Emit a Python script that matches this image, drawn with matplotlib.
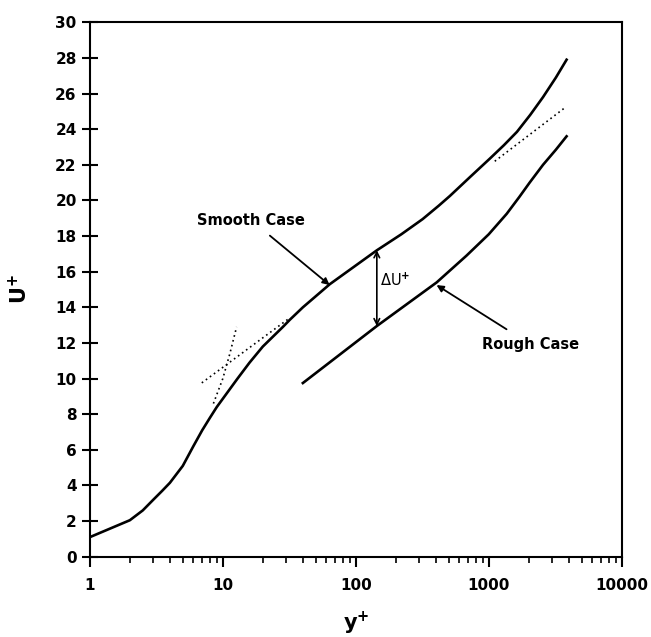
import matplotlib.pyplot as plt
from matplotlib.ticker import FixedLocator, LogLocator, NullFormatter

plt.rcParams['font.family'] = ['DejaVu Sans']
plt.rcParams['font.weight'] = 'bold'
plt.rcParams['mathtext.default'] = 'bf'

# smooth wall profile
smooth_y = [1, 2, 2.5, 3, 3.5, 4, 5, 6, 7, 8, 9, 12.9, 15.9, 20, 28.3, 31.9, 40, 63.8,
            144, 220, 318, 420, 510, 720, 1020, 1300, 1630, 2050, 2560, 3200, 3850]
smooth_u = [1.1, 2.05, 2.6, 3.2, 3.7, 4.15, 5.1, 6.2, 7.1, 7.8, 8.4, 10.0, 10.9, 11.8, 12.9, 13.3, 14.0, 15.3,
            17.2, 18.1, 18.95, 19.7, 20.25, 21.3, 22.35, 23.1, 23.85, 24.8, 25.8, 26.9, 27.9]

# rough wall profile
rough_y = [40, 144, 406, 680, 1000, 1365, 1700, 2030, 2560, 3200, 3850]
rough_u = [9.75, 12.95, 15.4, 16.9, 18.1, 19.25, 20.2, 21.0, 22.0, 22.85, 23.6]

# reference dotted lines
visc_y = [8.5, 10.0, 11.3, 12.7]
visc_u = [8.6, 10.0, 11.4, 12.9]
log_lo_y = [6.95, 31.8]
log_lo_u = [9.76, 13.4]
log_hi_y = [1110, 3730]
log_hi_u = [22.2, 25.2]

fig = plt.figure(figsize=(6.51, 6.37), dpi=100)
ax = fig.add_axes([0.138, 0.126, 0.817, 0.839])

ax.plot(smooth_y, smooth_u, color='black', lw=1.9)
ax.plot(rough_y, rough_u, color='black', lw=1.9)
ax.plot(visc_y, visc_u, color='black', lw=1.2, ls=(0, (1, 2)))
ax.plot(log_lo_y, log_lo_u, color='black', lw=1.2, ls=(0, (1, 2)))
ax.plot(log_hi_y, log_hi_u, color='black', lw=1.2, ls=(0, (1, 2)))

# delta U arrow
ax.annotate('', xy=(144, 17.2), xytext=(144, 12.95),
            arrowprops=dict(arrowstyle='<->', color='black', lw=1.2,
                            shrinkA=0, shrinkB=0))
ax.text(152, 15.5, 'ΔU$^{+}$', fontsize=10.5, fontweight='normal',
        va='center', ha='left')

ax.annotate('Smooth Case', xy=(63.6, 15.25), xytext=(16.3, 18.9),
            fontsize=10.5, ha='center', va='center',
            arrowprops=dict(arrowstyle='-|>', color='black', lw=1.3,
                            shrinkA=6, shrinkB=0, mutation_scale=10))
ax.annotate('Rough Case', xy=(405, 15.25), xytext=(2080, 11.9),
            fontsize=10.5, ha='center', va='center',
            arrowprops=dict(arrowstyle='-|>', color='black', lw=1.3,
                            shrinkA=7, shrinkB=0, mutation_scale=10))

ax.set_xscale('log')
ax.set_xlim(1, 10000)
ax.set_ylim(0, 30)
ax.xaxis.set_major_locator(FixedLocator([1, 10, 100, 1000, 10000]))
ax.set_xticklabels(['1', '10', '100', '1000', '10000'])
ax.xaxis.set_minor_locator(LogLocator(base=10, subs=range(2, 10)))
ax.xaxis.set_minor_formatter(NullFormatter())
ax.set_yticks(range(0, 31, 2))

ax.tick_params(axis='x', which='major', direction='out', length=7, width=1.5, labelsize=11, pad=8)
ax.tick_params(axis='x', which='minor', direction='out', length=4, width=1.2)
ax.tick_params(axis='y', which='major', direction='inout', length=12, width=1.5, labelsize=11)
for s in ax.spines.values():
    s.set_linewidth(1.5)

ax.set_xlabel('y$^{+}$', fontsize=15, fontweight='bold')
ax.set_ylabel('U$^{+}$', fontsize=15, fontweight='bold')
ax.xaxis.set_label_coords(0.5, -0.1)
ax.yaxis.set_label_coords(-0.11, 0.5)

plt.savefig('out.png', dpi=100)
